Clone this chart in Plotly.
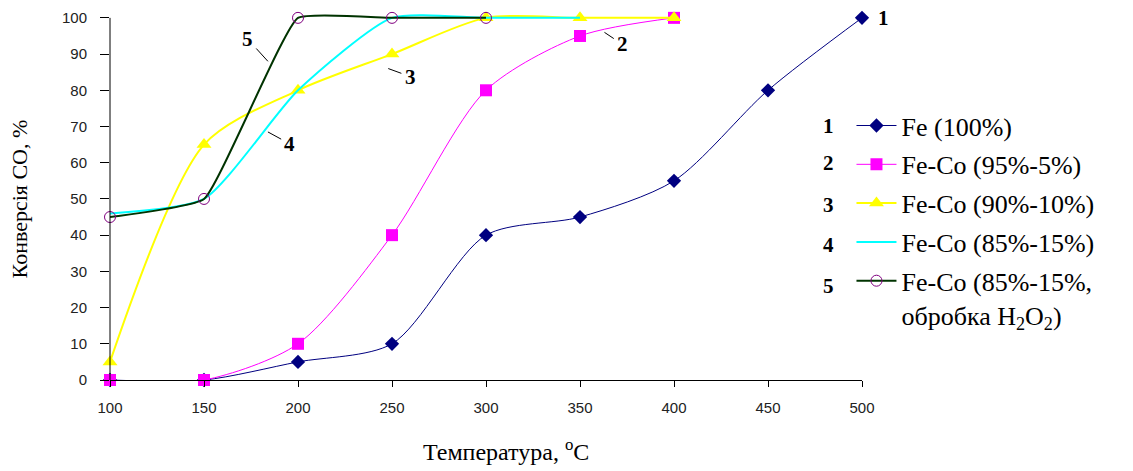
import plotly.graph_objects as go

# Температура, °C
temp_fe = [100, 150, 200, 250, 300, 350, 400, 450, 500]
conv_fe = [0, 0, 5, 10, 40, 45, 55, 80, 100]

temp_feco95 = [100, 150, 200, 250, 300, 350, 400]
conv_feco95 = [0, 0, 10, 40, 80, 95, 100]

temp_feco90 = [100, 150, 200, 250, 300, 350, 400]
conv_feco90 = [5, 65, 80, 90, 100, 100, 100]

temp_feco85 = [100, 150, 200, 250, 300, 350]
conv_feco85 = [46, 50, 80, 100, 100, 100]

temp_feco85_h2o2 = [100, 150, 200, 250, 300]
conv_feco85_h2o2 = [45, 50, 100, 100, 100]

names = [
    "Fe (100%)",
    "Fe-Co (95%-5%)",
    "Fe-Co (90%-10%)",
    "Fe-Co (85%-15%)",
    "Fe-Co (85%-15%,<br>обробка H<sub>2</sub>O<sub>2</sub>)",
]
curve_numbers = ["1", "2", "3", "4", "5"]

x_ticks = [100, 150, 200, 250, 300, 350, 400, 450, 500]
y_ticks = [0, 10, 20, 30, 40, 50, 60, 70, 80, 90, 100]

SERIF = "Liberation Serif"
SANS = "Liberation Sans"

fig = go.Figure()

fig.add_trace(go.Scatter(
    x=temp_fe, y=conv_fe, name=names[0], legendgroup="g1",
    mode="lines+markers", line=dict(color="#000080", width=1, shape="spline", smoothing=0.8),
    marker=dict(symbol="diamond", size=11, color="#000080"), cliponaxis=False,
))
fig.add_trace(go.Scatter(
    x=temp_feco95, y=conv_feco95, name=names[1], legendgroup="g2",
    mode="lines+markers", line=dict(color="#FF00FF", width=1, shape="spline", smoothing=0.8),
    marker=dict(symbol="square", size=12, color="#FF00FF"), cliponaxis=False,
))
fig.add_trace(go.Scatter(
    x=temp_feco90, y=conv_feco90, name=names[2], legendgroup="g3",
    mode="lines+markers", line=dict(color="#FFFF00", width=2, shape="spline", smoothing=0.8),
    marker=dict(symbol="triangle-up", size=13, color="#FFFF00"), cliponaxis=False,
))
fig.add_trace(go.Scatter(
    x=temp_feco85, y=conv_feco85, name=names[3], legendgroup="g4",
    mode="lines", line=dict(color="#00FFFF", width=2, shape="spline", smoothing=0.6),
    cliponaxis=False,
))
fig.add_trace(go.Scatter(
    x=temp_feco85_h2o2, y=conv_feco85_h2o2, name=names[4], legendgroup="g5",
    mode="lines+markers", line=dict(color="#003300", width=2, shape="spline", smoothing=0.35),
    marker=dict(symbol="circle-open", size=11, color="#800080", line=dict(width=1)),
    cliponaxis=False,
))

# Curve labels with leader lines
curve_labels = [
    dict(text="5", x=184, y=88, ax=-20, ay=-22),
    dict(text="4", x=184, y=68.5, ax=22, ay=12),
    dict(text="3", x=248, y=86, ax=22, ay=8),
    dict(text="2", x=363, y=96, ax=18, ay=12),
]
for lab in curve_labels:
    fig.add_annotation(
        x=lab["x"], y=lab["y"], xref="x", yref="y", text="<b>%s</b>" % lab["text"],
        showarrow=True, arrowhead=0, arrowwidth=1, arrowcolor="black",
        ax=lab["ax"], ay=lab["ay"], standoff=0, startstandoff=2,
        font=dict(family=SERIF, size=21, color="black"),
    )
fig.add_annotation(
    x=500, y=100, xref="x", yref="y", text="<b>1</b>", showarrow=False,
    xanchor="left", yanchor="middle", xshift=14,
    font=dict(family=SERIF, size=21, color="black"),
)

# Curve numbers in front of the legend entries
legend_rows_y = [70.2, 60.0, 48.3, 37.3, 26.0]
for num, yy in zip(curve_numbers, legend_rows_y):
    fig.add_annotation(
        x=1.0, y=yy, xref="paper", yref="y", text="<b>%s</b>" % num,
        showarrow=False, xanchor="center", yanchor="middle", xshift=-34,
        font=dict(family=SERIF, size=21, color="black"),
    )

# Axis titles
fig.add_annotation(
    x=0.5, y=0, xref="paper", yref="paper", yanchor="top", xshift=20, yshift=-53,
    text="Температура, <sup>o</sup>C", showarrow=False,
    font=dict(family=SERIF, size=24, color="black"),
)
fig.add_annotation(
    x=0, y=50, xref="paper", yref="y", xanchor="right", yanchor="middle", xshift=-76,
    text="Конверсія СО, %", textangle=-90, showarrow=False,
    font=dict(family=SERIF, size=22, color="black"),
)

# Vertical axis line up to 100 %
fig.add_shape(
    type="line", xref="paper", yref="y", x0=0, x1=0, y0=0, y1=100,
    line=dict(color="black", width=1),
)

fig.update_layout(
    width=1133, height=471,
    margin=dict(l=110, r=271, t=7, b=91),
    plot_bgcolor="white", paper_bgcolor="white",
    showlegend=True,
    legend=dict(
        x=0.986, y=0.745, xanchor="left", yanchor="top", valign="top",
        font=dict(family=SERIF, size=26, color="black"),
        tracegroupgap=2, itemwidth=40, bgcolor="rgba(0,0,0,0)",
    ),
    xaxis=dict(
        range=[100, 500], tickvals=x_ticks, showgrid=False, zeroline=False,
        showline=True, linecolor="black", linewidth=1,
        ticks="outside", ticklen=6, tickcolor="black",
        ticklabelstandoff=8,
        tickfont=dict(family=SANS, size=15, color="#222"),
    ),
    yaxis=dict(
        range=[0, 103], tickvals=y_ticks, showgrid=False, zeroline=False,
        showline=False,
        ticks="outside", ticklen=9, tickcolor="black",
        ticklabelstandoff=10,
        tickfont=dict(family=SANS, size=15, color="#222"),
    ),
)

fig.write_html("out.html")
